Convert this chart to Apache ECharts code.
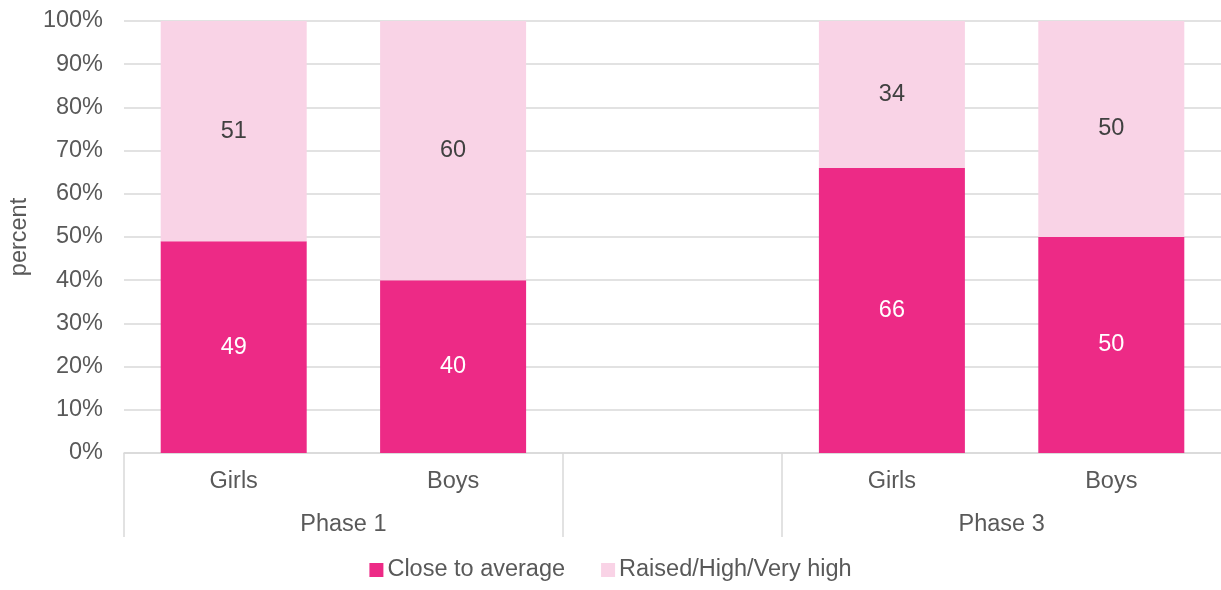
<!DOCTYPE html>
<html>
<head>
<meta charset="utf-8">
<script src="https://cdn.jsdelivr.net/npm/echarts@6/dist/echarts.min.js"></script>
<style>
  html, body { margin: 0; padding: 0; background: #fff; }
  #chart { width: 1221px; height: 590px; }
</style>
</head>
<body>
<div id="chart"></div>
<script>
// Data
const groups = ['Girls', 'Boys', '', 'Girls', 'Boys'];
const phases = ['Phase 1', 'Phase 3'];
const phaseCenters = [1, 4];
const phaseEdges = [0, 2, 3];
const closeToAverage = [49, 40, null, 66, 50];
const raisedHigh = [51, 60, null, 34, 50];

const FONT = '"Liberation Sans", Arial, sans-serif';
const GREY = '#595959';
const SIZE = 23.5;

let myChart = echarts.init(document.getElementById('chart'));

myChart.setOption({
	animation: false,
	textStyle: { fontFamily: FONT },
	grid: { left: 121, top: 21, width: 1102, bottom: 137 },
	legend: {
		bottom: 3,
		itemWidth: 14,
		itemHeight: 14,
		itemGap: 36,
		icon: 'rect',
		textStyle: { fontSize: SIZE, color: GREY, fontFamily: FONT, padding: [0, 0, 0, -1] },
		data: ['Close to average', 'Raised/High/Very high']
	},
	xAxis: [{
		type: 'category',
		data: groups,
		axisLine: { lineStyle: { color: '#d9d9d9', width: 1.5 } },
		axisTick: { show: false },
		axisLabel: { fontSize: SIZE, color: GREY, margin: 17, fontFamily: FONT }
	}, {
		type: 'value',
		min: 0,
		max: 5,
		position: 'bottom',
		axisLine: { show: false },
		splitLine: { show: false },
		axisTick: {
			show: true,
			customValues: phaseEdges,
			length: 84,
			lineStyle: { color: '#d9d9d9', width: 1.5 }
		},
		axisLabel: {
			customValues: phaseCenters,
			fontSize: SIZE,
			color: GREY,
			margin: 60,
			fontFamily: FONT,
			formatter: function (v) {
				return phases[phaseCenters.indexOf(v)];
			}
		}
	}],
	yAxis: {
		type: 'value',
		min: 0,
		max: 100,
		interval: 10,
		name: 'percent',
		nameLocation: 'middle',
		nameRotate: 90,
		nameGap: 90,
		nameTextStyle: { fontSize: SIZE, color: GREY, fontFamily: FONT },
		axisLine: { show: false },
		axisTick: { show: false },
		splitLine: { lineStyle: { color: '#d9d9d9', width: 1.5 } },
		axisLabel: { fontSize: SIZE, color: GREY, margin: 21, formatter: '{value}%', fontFamily: FONT }
	},
	series: [{
		name: 'Close to average',
		type: 'bar',
		stack: 'total',
		barWidth: 146,
		data: closeToAverage,
		itemStyle: { color: '#ED2A86' },
		label: { show: true, position: 'inside', fontSize: SIZE, color: '#ffffff', fontFamily: FONT }
	}, {
		name: 'Raised/High/Very high',
		type: 'bar',
		stack: 'total',
		barWidth: 146,
		data: raisedHigh,
		itemStyle: { color: '#F9D3E6' },
		label: { show: true, position: 'inside', fontSize: SIZE, color: '#404040', fontFamily: FONT }
	}]
});
</script>
</body>
</html>
